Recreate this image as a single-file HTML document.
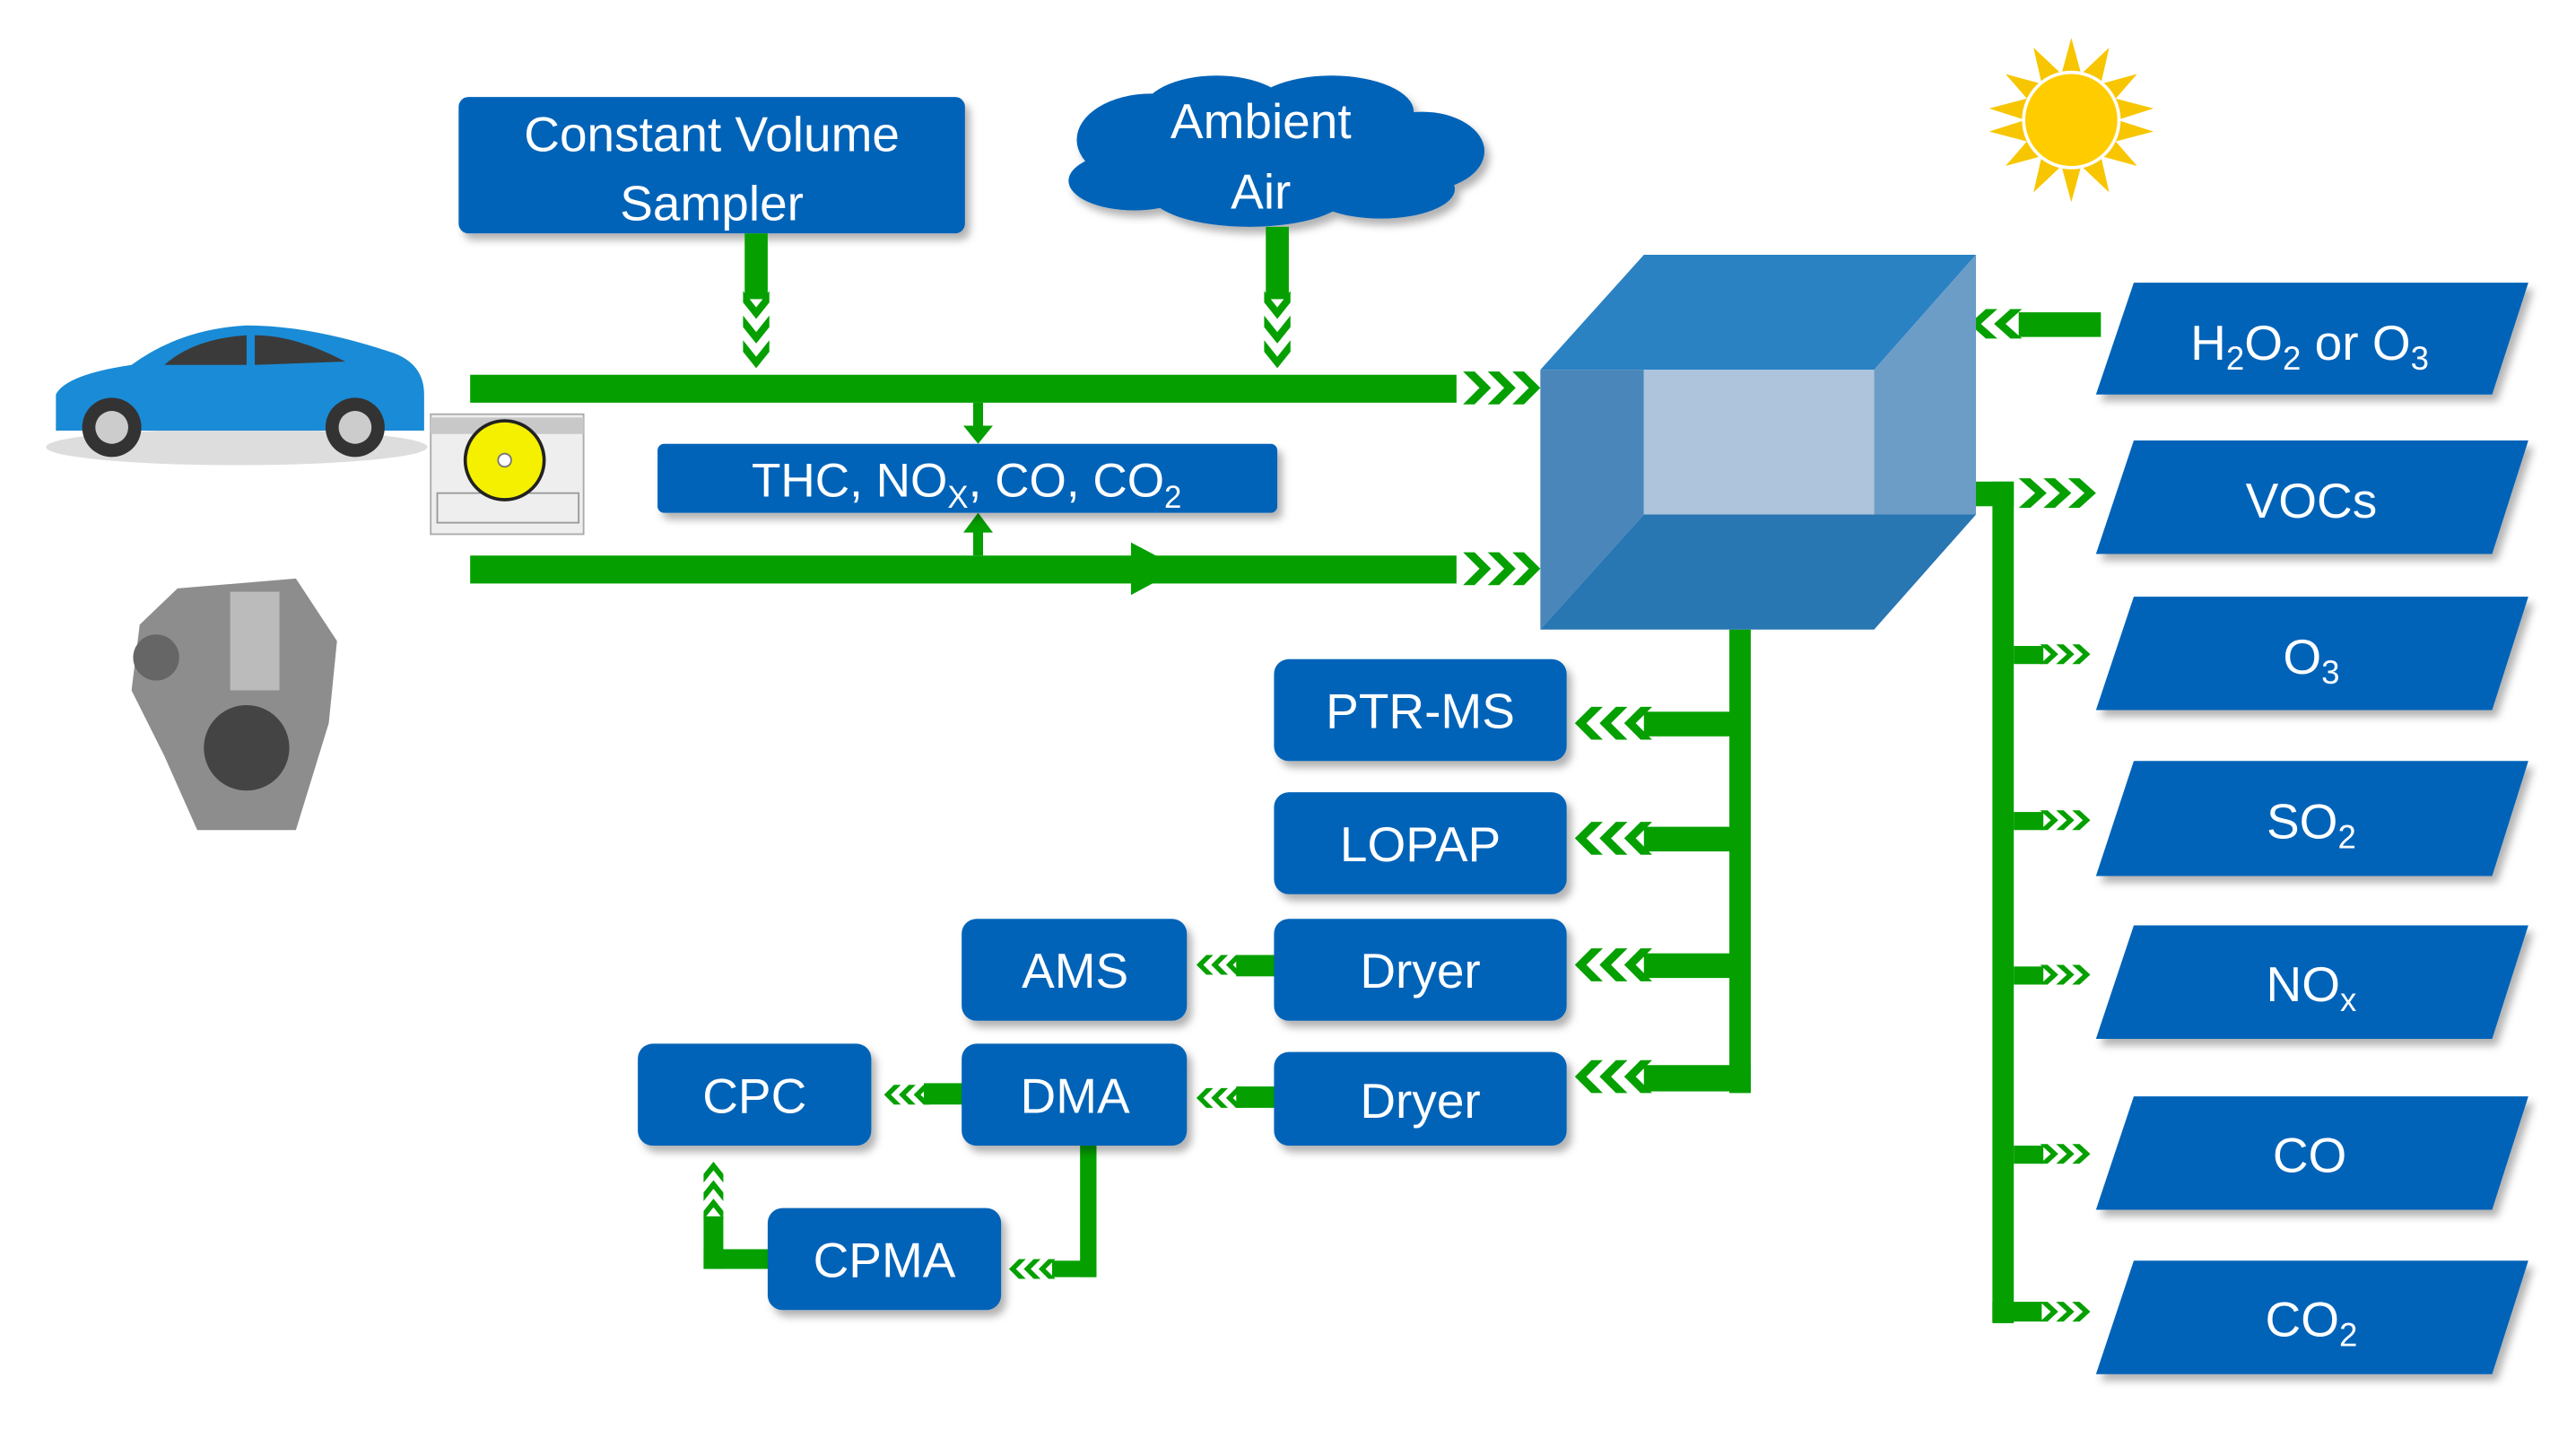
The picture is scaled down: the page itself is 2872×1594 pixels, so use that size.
<!DOCTYPE html>
<html><head><meta charset="utf-8"><style>
html,body{margin:0;padding:0;background:#fff;}
svg{display:block;}
text{font-family:"Liberation Sans",sans-serif;fill:#fff;}
</style></head><body>
<svg width="2872" height="1594" viewBox="0 0 1567 870" preserveAspectRatio="none" xmlns="http://www.w3.org/2000/svg">
<defs>
<filter id="sh" x="-10%" y="-10%" width="130%" height="140%"><feDropShadow dx="3" dy="4" stdDeviation="2.5" flood-color="#000" flood-opacity="0.3"/></filter>
<g id="chR">
<polygon points="0,-10 7,-10 17,0 7,10 0,10 10,0"/>
<polygon points="15,-10 22,-10 32,0 22,10 15,10 25,0"/>
<polygon points="30,-10 37,-10 47,0 37,10 30,10 40,0"/>
</g>
</defs>
<rect width="1567" height="870" fill="#fff"/>

<!-- Car -->
<g>
<ellipse cx="144" cy="272" rx="116" ry="11" fill="#ddd"/>
<path d="M34,262 L34,240 Q40,228 80,222 Q110,200 150,198 Q190,198 240,215 Q258,222 258,240 L258,262 Z" fill="#1a8bd6"/>
<path d="M100,222 Q118,206 150,204 L150,222 Z M155,204 Q180,204 210,220 L155,222 Z" fill="#3a3a3a"/>
<circle cx="68" cy="260" r="18" fill="#333"/><circle cx="68" cy="260" r="10" fill="#ccc"/>
<circle cx="216" cy="260" r="18" fill="#333"/><circle cx="216" cy="260" r="10" fill="#ccc"/>
</g>
<!-- Dyno -->
<g>
<rect x="262" y="252" width="93" height="73" fill="#eee" stroke="#aaa"/>
<rect x="262" y="254" width="93" height="10" fill="#c8c8c8"/>
<rect x="266" y="300" width="86" height="18" fill="none" stroke="#999"/>
<circle cx="307" cy="280" r="24" fill="#f5f000" stroke="#222" stroke-width="2"/>
<circle cx="307" cy="280" r="4" fill="#fff" stroke="#777"/>
</g>
<!-- Engine -->
<g>
<path d="M108,358 L180,352 L205,390 L200,440 L180,505 L120,505 L100,460 L80,420 L85,380 Z" fill="#8d8d8d"/>
<circle cx="150" cy="455" r="26" fill="#444"/>
<circle cx="95" cy="400" r="14" fill="#666"/>
<rect x="140" y="360" width="30" height="60" fill="#bbb"/>
</g>

<!-- CVS -->
<rect x="279" y="59" width="308" height="83" rx="6" fill="#0563b8" filter="url(#sh)"/>
<text x="433" y="92" font-size="30" text-anchor="middle">Constant Volume</text>
<text x="433" y="134" font-size="30" text-anchor="middle">Sampler</text>
<!-- Cloud -->
<g fill="#0563b8" filter="url(#sh)">
<ellipse cx="775" cy="95" rx="115" ry="35"/>
<ellipse cx="700" cy="85" rx="45" ry="28"/>
<ellipse cx="740" cy="68" rx="45" ry="22"/>
<ellipse cx="810" cy="68" rx="50" ry="22"/>
<ellipse cx="865" cy="92" rx="38" ry="24"/>
<ellipse cx="760" cy="118" rx="60" ry="20"/>
<ellipse cx="690" cy="110" rx="40" ry="18"/>
<ellipse cx="840" cy="115" rx="45" ry="18"/>
</g>
<text x="767" y="84" font-size="30" text-anchor="middle">Ambient</text>
<text x="767" y="127" font-size="30" text-anchor="middle">Air</text>
<!-- Sun -->
<g>
<polygon fill="#f7c600" points="1260,23 1266,45 1283,29 1278,51 1300,45 1287,60 1310,66 1288,73 1310,80 1287,86 1300,101 1278,95 1283,117 1266,101 1260,123 1254,101 1237,117 1242,95 1220,101 1233,86 1210,80 1232,73 1210,66 1233,60 1220,45 1242,51 1237,29 1254,45"/>
<circle cx="1260" cy="73" r="29" fill="#ffcc00" stroke="#fff" stroke-width="2"/>
</g>

<!-- green lines -->
<g fill="#05a000">
<rect x="286" y="228" width="600" height="17"/>
<rect x="286" y="338" width="600" height="17"/>
<polygon points="688,330 718,346 688,362"/>
<use href="#chR" transform="translate(890,236)"/>
<use href="#chR" transform="translate(890,346)"/>
<rect x="453" y="142" width="14" height="40"/>
<use href="#chR" transform="translate(460,177) rotate(90) scale(1,0.8)"/>
<rect x="770" y="138" width="14" height="44"/>
<use href="#chR" transform="translate(777,177) rotate(90) scale(1,0.8)"/>
<rect x="592" y="245" width="6" height="16"/>
<polygon points="586,259 604,259 595,270"/>
<rect x="592" y="322" width="6" height="16"/>
<polygon points="586,324 604,324 595,312"/>
<rect x="1228" y="190" width="50" height="15"/>
<use href="#chR" transform="translate(1230,197) scale(-1,0.9)"/>
<rect x="1185" y="293" width="40" height="15"/>
<use href="#chR" transform="translate(1228,300) scale(1,0.9)"/>
<rect x="1212" y="293" width="13" height="512"/>
<rect x="1212" y="792" width="30" height="12"/>
<g transform="translate(1225,0)">
<rect x="0" y="393" width="18" height="11"/><use href="#chR" transform="translate(16,398) scale(0.65,0.6)"/>
<rect x="0" y="494" width="18" height="11"/><use href="#chR" transform="translate(16,499) scale(0.65,0.6)"/>
<rect x="0" y="588" width="18" height="11"/><use href="#chR" transform="translate(16,593) scale(0.65,0.6)"/>
<rect x="0" y="697" width="18" height="11"/><use href="#chR" transform="translate(16,702) scale(0.65,0.6)"/>
<use href="#chR" transform="translate(16,798) scale(0.65,0.6)"/>
</g>
<rect x="1052" y="383" width="13" height="282"/>
<rect x="1000" y="433" width="55" height="15"/><use href="#chR" transform="translate(1005,440) scale(-1,1)"/>
<rect x="1000" y="503" width="55" height="15"/><use href="#chR" transform="translate(1005,510) scale(-1,1)"/>
<rect x="1000" y="580" width="55" height="15"/><use href="#chR" transform="translate(1005,587) scale(-1,1)"/>
<rect x="1000" y="648" width="65" height="16"/><use href="#chR" transform="translate(1005,655) scale(-1,1)"/>
<rect x="752" y="581" width="25" height="13"/><use href="#chR" transform="translate(756,587) scale(-0.6,0.6)"/>
<rect x="752" y="661" width="25" height="13"/><use href="#chR" transform="translate(756,668) scale(-0.6,0.6)"/>
<rect x="562" y="659" width="25" height="13"/><use href="#chR" transform="translate(566,666) scale(-0.6,0.6)"/>
<rect x="657" y="697" width="10" height="80"/>
<rect x="640" y="767" width="27" height="10"/><use href="#chR" transform="translate(642,772) scale(-0.6,0.6)"/>
<rect x="428" y="740" width="12" height="32"/>
<rect x="428" y="760" width="40" height="12"/>
<use href="#chR" transform="translate(434,742) rotate(-90) scale(0.75,0.6)"/>
</g>

<!-- Cube -->
<g>
<polygon points="937,225 1000,155 1202,155 1140,225" fill="#2a82c3"/>
<polygon points="1140,225 1202,155 1202,313 1140,383" fill="#6c9dc6"/>
<polygon points="937,225 1000,225 1000,313 937,383" fill="#4a86ba"/>
<rect x="1000" y="225" width="140" height="88" fill="#adc4dc"/>
<polygon points="937,383 1000,313 1140,313 1202,313 1140,383" fill="#2876b2"/>
</g>

<!-- right parallelograms -->
<g fill="#0563b8" filter="url(#sh)">
<polygon points="1298,172 1538,172 1516,240 1275,240"/>
<polygon points="1298,268 1538,268 1516,337 1275,337"/>
<polygon points="1298,363 1538,363 1516,432 1275,432"/>
<polygon points="1298,463 1538,463 1516,533 1275,533"/>
<polygon points="1298,563 1538,563 1516,632 1275,632"/>
<polygon points="1298,667 1538,667 1516,736 1275,736"/>
<polygon points="1298,767 1538,767 1516,836 1275,836"/>
</g>
<g font-size="30" text-anchor="middle">
<text x="1405" y="219">H<tspan font-size="20" dy="6">2</tspan><tspan dy="-6">O</tspan><tspan font-size="20" dy="6">2</tspan><tspan dy="-6"> or O</tspan><tspan font-size="20" dy="6">3</tspan></text>
<text x="1406" y="315">VOCs</text>
<text x="1406" y="410">O<tspan font-size="20" dy="6">3</tspan></text>
<text x="1406" y="510">SO<tspan font-size="20" dy="6">2</tspan></text>
<text x="1406" y="609">NO<tspan font-size="20" dy="6">x</tspan></text>
<text x="1405" y="713">CO</text>
<text x="1406" y="813">CO<tspan font-size="20" dy="6">2</tspan></text>
</g>

<rect x="400" y="270" width="377" height="42" rx="4" fill="#0563b8" filter="url(#sh)"/>
<text x="588" y="302" font-size="29" text-anchor="middle">THC, NO<tspan font-size="19" dy="7">X</tspan><tspan dy="-7">, CO, CO</tspan><tspan font-size="19" dy="7">2</tspan></text>

<g fill="#0563b8" filter="url(#sh)">
<rect x="775" y="401" width="178" height="62" rx="9"/>
<rect x="775" y="482" width="178" height="62" rx="9"/>
<rect x="775" y="559" width="178" height="62" rx="9"/>
<rect x="775" y="640" width="178" height="57" rx="9"/>
<rect x="585" y="559" width="137" height="62" rx="9"/>
<rect x="585" y="635" width="137" height="62" rx="9"/>
<rect x="388" y="635" width="142" height="62" rx="9"/>
<rect x="467" y="735" width="142" height="62" rx="9"/>
</g>
<g font-size="30" text-anchor="middle">
<text x="864" y="443">PTR-MS</text>
<text x="864" y="524">LOPAP</text>
<text x="864" y="601">Dryer</text>
<text x="864" y="680">Dryer</text>
<text x="654" y="601">AMS</text>
<text x="654" y="677">DMA</text>
<text x="459" y="677">CPC</text>
<text x="538" y="777">CPMA</text>
</g>
</svg>
</body></html>
